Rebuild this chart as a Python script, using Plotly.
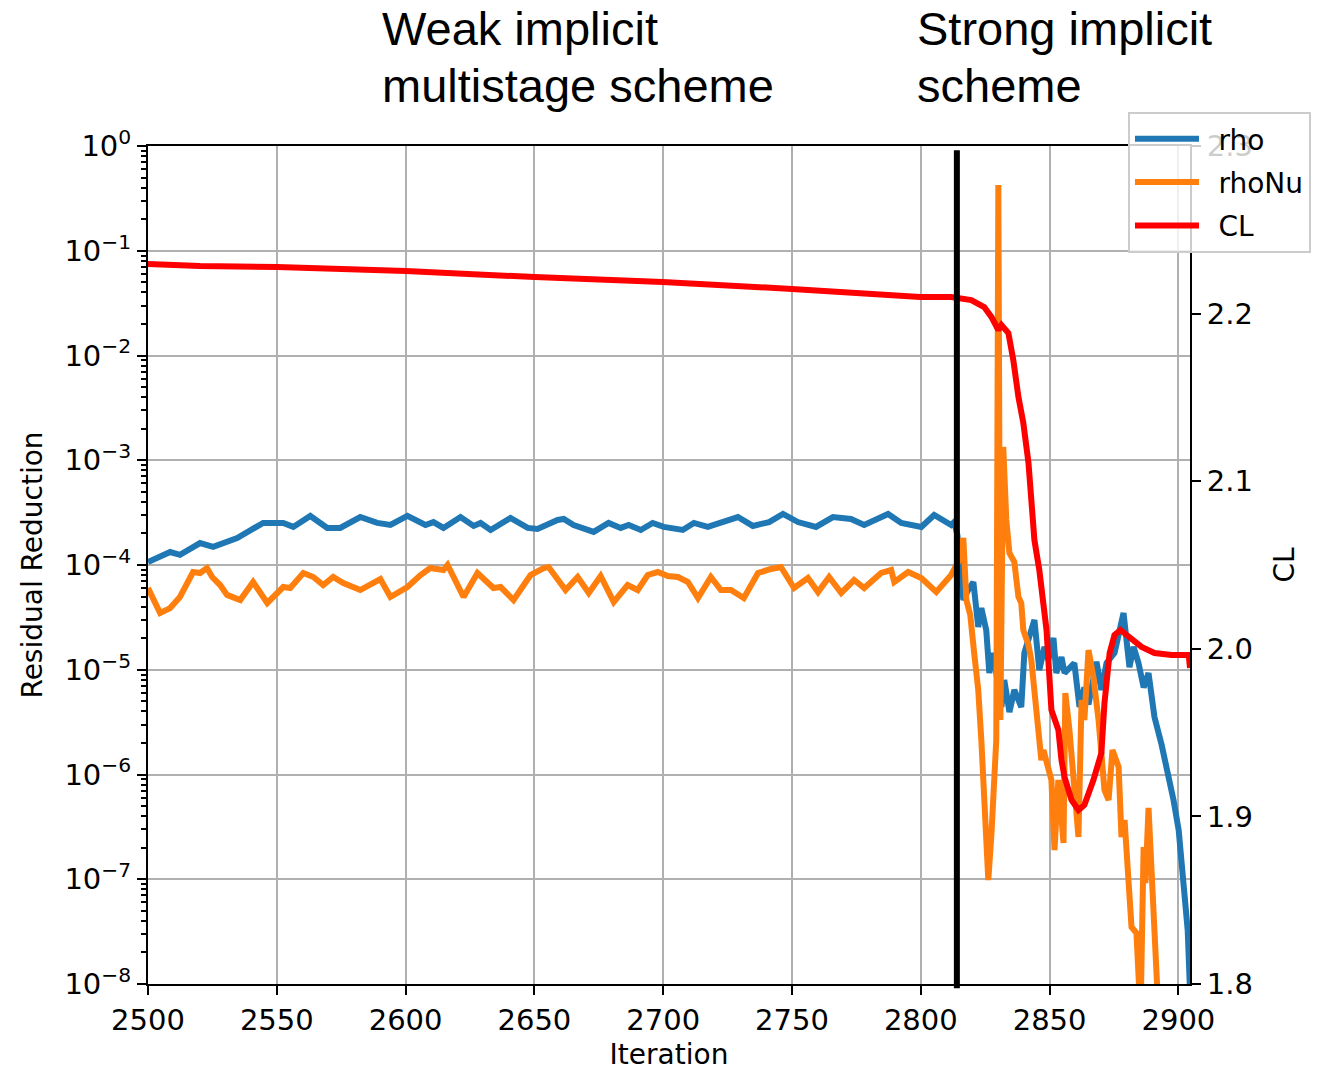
import plotly.graph_objects as go

# ---------------------------------------------------------------
# Convergence history: residual reduction (left, log) and CL (right)
# ---------------------------------------------------------------

# density residual "rho"
rho_iter = [2500.0, 2508.6, 2512.4, 2520.2, 2525.3, 2534.6, 2544.7, 2552.5, 2556.4, 2563.0,
            2569.6, 2574.6, 2582.4, 2589.0, 2594.1, 2600.7, 2607.7, 2610.8, 2614.7, 2621.3,
            2626.4, 2629.1, 2633.0, 2640.7, 2647.4, 2651.2, 2659.0, 2661.4, 2665.2, 2673.0,
            2678.8, 2683.5, 2686.6, 2691.3, 2695.9, 2700.2, 2707.6, 2711.9, 2717.3, 2723.2,
            2729.0, 2734.8, 2741.1, 2746.5, 2752.3, 2759.3, 2765.9, 2772.9, 2778.0, 2787.3,
            2792.4, 2800.2, 2805.2, 2811.8, 2813.0,
            2814.2, 2816.5, 2818.4, 2820.4, 2822.3, 2823.5, 2825.4, 2826.6, 2828.1, 2831.3,
            2832.4, 2834.4, 2836.3, 2839.0, 2840.2, 2844.1, 2846.0, 2848.0, 2849.5, 2851.5,
            2852.6, 2854.6, 2855.8, 2857.7, 2859.6, 2861.6, 2863.5, 2865.1, 2868.2, 2870.1,
            2872.1, 2875.2, 2878.7, 2881.0, 2882.6, 2884.5, 2886.5, 2888.4, 2890.7, 2893.5,
            2895.8, 2898.1, 2900.1, 2902.0, 2903.6, 2904.4]
rho_res = [1.07e-4, 1.33e-4, 1.25e-4, 1.62e-4, 1.49e-4, 1.81e-4, 2.52e-4, 2.52e-4, 2.31e-4, 2.94e-4,
           2.26e-4, 2.26e-4, 2.87e-4, 2.52e-4, 2.41e-4, 2.94e-4, 2.41e-4, 2.57e-4, 2.26e-4, 2.87e-4,
           2.36e-4, 2.52e-4, 2.16e-4, 2.81e-4, 2.26e-4, 2.21e-4, 2.69e-4, 2.75e-4, 2.41e-4, 2.07e-4,
           2.52e-4, 2.26e-4, 2.41e-4, 2.16e-4, 2.52e-4, 2.31e-4, 2.16e-4, 2.52e-4, 2.31e-4, 2.57e-4,
           2.87e-4, 2.36e-4, 2.57e-4, 3.07e-4, 2.57e-4, 2.31e-4, 2.87e-4, 2.75e-4, 2.41e-4, 3.07e-4,
           2.52e-4, 2.31e-4, 3.00e-4, 2.41e-4, 2.57e-4,
           1.93e-4, 4.63e-5, 5.77e-5, 6.88e-5, 2.56e-5, 3.88e-5, 2.39e-5, 9.3e-6, 1.45e-5, 4.41e-6,
           7.97e-6, 3.95e-6, 6.41e-6, 4.41e-6, 1.45e-5, 2.99e-5, 9.95e-6, 1.65e-5, 1.24e-5, 2.01e-5,
           9.3e-6, 1.32e-5, 9.3e-6, 1.06e-5, 1.16e-5, 4.41e-6, 6.77e-6, 4.66e-6, 1.19e-5, 6.41e-6,
           1.16e-5, 1.45e-5, 3.48e-5, 1.06e-5, 1.65e-5, 1.16e-5, 6.77e-6, 9.3e-6, 3.54e-6, 1.91e-6,
           1.10e-6, 5.71e-7, 2.95e-7, 9.8e-8, 3.28e-8, 1.0e-8]

# turbulence residual "rhoNu"
rhonu_iter = [2500.0, 2504.7, 2508.6, 2512.4, 2517.5, 2520.2, 2522.9, 2524.9, 2528.0, 2530.7,
              2535.8, 2540.8, 2546.3, 2552.5, 2555.2, 2560.3, 2564.2, 2568.0, 2571.9, 2575.8,
              2582.4, 2586.3, 2590.2, 2594.1, 2600.7, 2605.8, 2609.6, 2614.7, 2616.3, 2622.5,
              2627.9, 2634.1, 2636.9, 2641.9, 2648.5, 2653.6, 2655.5, 2662.1, 2666.8, 2671.1,
              2675.7, 2680.8, 2686.2, 2690.1, 2694.0, 2697.9, 2701.8, 2705.7, 2709.6, 2713.5,
              2718.5, 2722.4, 2726.3, 2731.3, 2736.8, 2741.8, 2745.7, 2750.8, 2756.2, 2760.1,
              2764.4, 2769.1, 2774.1, 2778.0, 2784.6, 2788.5, 2789.7, 2795.1, 2800.2, 2806.0,
              2811.8,
              2814.9, 2816.5, 2817.7, 2819.2, 2820.8, 2822.3, 2823.5, 2824.6, 2826.2, 2827.4,
              2828.5, 2829.3, 2830.1, 2830.9, 2832.0, 2833.2, 2834.4, 2836.3, 2837.9, 2839.0,
              2839.8, 2841.8, 2842.9, 2844.9, 2846.8, 2847.6, 2849.1, 2850.7, 2851.9, 2853.4,
              2855.4, 2856.1, 2857.7, 2859.3, 2861.2, 2862.4, 2863.5, 2865.1, 2867.0, 2869.0,
              2870.1, 2871.3, 2872.9, 2874.4, 2876.8, 2877.9, 2879.1, 2881.8, 2883.7, 2885.3,
              2886.5, 2887.2, 2888.4, 2890.4, 2892.3]
rhonu_res = [6.03e-5, 3.48e-5, 3.88e-5, 4.95e-5, 8.57e-5, 8.39e-5, 9.36e-5, 7.68e-5, 6.44e-5, 5.18e-5,
             4.63e-5, 6.88e-5, 4.34e-5, 6.16e-5, 6.03e-5, 8.39e-5, 7.68e-5, 6.44e-5, 7.68e-5, 6.73e-5,
             5.77e-5, 6.44e-5, 7.34e-5, 4.95e-5, 6.16e-5, 8.03e-5, 9.36e-5, 8.96e-5, 1.0e-4, 4.95e-5,
             8.39e-5, 6.03e-5, 6.16e-5, 4.63e-5, 8.03e-5, 9.36e-5, 9.57e-5, 5.77e-5, 7.68e-5, 5.41e-5,
             7.85e-5, 4.44e-5, 6.44e-5, 5.77e-5, 8.03e-5, 8.57e-5, 7.85e-5, 7.68e-5, 6.88e-5, 4.84e-5,
             7.68e-5, 5.77e-5, 5.77e-5, 4.84e-5, 8.39e-5, 9.16e-5, 9.57e-5, 6.03e-5, 7.51e-5, 5.52e-5,
             7.68e-5, 5.41e-5, 7.19e-5, 6.03e-5, 8.39e-5, 8.96e-5, 6.88e-5, 8.57e-5, 7.51e-5, 5.52e-5,
             8.03e-5,
             1.12e-4, 1.81e-4, 4.63e-5, 3.33e-5, 1.38e-5, 6.41e-6, 2.13e-6, 5.71e-7, 9.84e-8, 2.64e-7,
             7.11e-7, 2.13e-6, 0.425, 3.31e-6, 1.34e-3, 2.69e-4, 1.30e-4, 1.07e-4, 4.95e-5, 4.34e-5,
             2.39e-5, 1.72e-5, 1.24e-5, 4.41e-6, 1.37e-6, 1.71e-6, 1.23e-6, 8.86e-7, 1.90e-7, 8.86e-7,
             2.22e-7, 6.0e-6, 2.66e-6, 8.86e-7, 2.53e-7, 5.14e-6, 3.31e-6, 1.54e-5, 8.53e-6, 3.31e-6,
             1.37e-6, 7.11e-7, 5.71e-7, 1.71e-6, 1.18e-6, 2.53e-7, 3.68e-7, 3.50e-8, 3.07e-8, 5.0e-9,
             2.03e-7, 9.2e-8, 4.79e-7, 5.08e-8, 5.0e-9]

# lift coefficient history
cl_iter = [2500.0, 2520.2, 2550.2, 2600.0, 2650.1, 2699.8, 2750.0, 2774.9, 2799.8, 2811.8,
           2819.6, 2824.6, 2827.4, 2830.1, 2831.3, 2834.0, 2835.9, 2837.9, 2839.8, 2841.8,
           2844.1, 2846.0, 2848.8, 2850.7, 2853.4, 2854.6, 2855.8, 2858.5, 2861.2, 2863.5,
           2867.0, 2870.1, 2871.3, 2873.3, 2875.2, 2877.5, 2881.0, 2885.7, 2890.7, 2897.4,
           2904.0, 2904.5]
cl_val = [2.2296, 2.2284, 2.2278, 2.2254, 2.2218, 2.2189, 2.2147, 2.2123, 2.2099, 2.2099,
          2.2081, 2.2039, 2.1980, 2.1902, 2.1932, 2.1884, 2.1723, 2.1502, 2.1347, 2.1109,
          2.0649, 2.0470, 2.0112, 1.9635, 1.9516, 1.9337, 1.9235, 1.9098, 1.9038, 1.9068,
          1.9217, 1.9378, 1.9677, 1.9975, 2.0082, 2.0112, 2.0064, 2.0011, 1.9975, 1.9963,
          1.9963, 1.9885]

# iteration at which the solver switches from the weak to the strong implicit scheme
switch_iter = 2814

x_ticks = [2500, 2550, 2600, 2650, 2700, 2750, 2800, 2850, 2900]
res_tick_exp = [-8, -7, -6, -5, -4, -3, -2, -1, 0]
res_tick_text = ["10<sup>\u22128</sup>", "10<sup>\u22127</sup>", "10<sup>\u22126</sup>",
                 "10<sup>\u22125</sup>", "10<sup>\u22124</sup>", "10<sup>\u22123</sup>",
                 "10<sup>\u22122</sup>", "10<sup>\u22121</sup>", "10<sup>0</sup>"]
cl_ticks = [1.8, 1.9, 2.0, 2.1, 2.2, 2.3]
series_names = ["rho", "rhoNu", "CL"]

FONT = "DejaVu Sans"
GRID = "#b0b0b0"
LW = 6

res_tick_vals = [10.0 ** e for e in res_tick_exp]
res_minor_vals = [m * 10.0 ** e for e in res_tick_exp[:-1] for m in range(2, 10)]

# legend labels get a small non-breaking gap after the line sample
gap = "\u00a0\u2009"

fig = go.Figure()
fig.add_trace(go.Scatter(x=rho_iter, y=rho_res, mode="lines", name=gap + series_names[0],
                         line=dict(color="#1f77b4", width=LW), legendgroup="a"))
fig.add_trace(go.Scatter(x=rhonu_iter, y=rhonu_res, mode="lines", name=gap + series_names[1],
                         line=dict(color="#ff7f0e", width=LW), legendgroup="b"))
fig.add_trace(go.Scatter(x=cl_iter, y=cl_val, mode="lines", name=gap + series_names[2], yaxis="y2",
                         line=dict(color="#ff0000", width=LW), legendgroup="c"))

# scheme switch marker
fig.add_shape(type="line", xref="x", yref="y domain", x0=switch_iter, x1=switch_iter,
              y0=-0.005, y1=0.995, line=dict(color="black", width=6), layer="above")

tick_font = dict(family=FONT, size=29, color="black")
title_font = dict(family=FONT, size=28, color="black")

fig.update_layout(
    width=1327, height=1071,
    margin=dict(l=148, r=137, t=146, b=87),
    paper_bgcolor="white", plot_bgcolor="white",
    font=dict(family=FONT, size=28, color="black"),
    showlegend=True,
    legend=dict(x=1.1161, xanchor="right", y=1.0406, yanchor="top",
                bgcolor="rgba(255,255,255,0.8)", bordercolor="#cccccc", borderwidth=2,
                font=dict(family=FONT, size=28, color="black"),
                traceorder="grouped", tracegroupgap=4, itemwidth=64),
    xaxis=dict(range=[2500, 2904.5], tickvals=x_ticks, ticks="outside", ticklen=9,
               tickwidth=2, tickcolor="black", showline=True, linecolor="black", linewidth=2,
               mirror=True, showgrid=True, gridcolor=GRID, gridwidth=2, zeroline=False,
               tickfont=tick_font, automargin=False,
               title=dict(text="Iteration", standoff=11, font=title_font)),
    yaxis=dict(type="log", range=[-8, 0], tickvals=res_tick_vals, ticktext=res_tick_text,
               ticks="outside", ticklen=9, tickwidth=2, tickcolor="black",
               minor=dict(tickvals=res_minor_vals, ticks="outside", ticklen=5, tickwidth=1.5,
                          tickcolor="black", showgrid=False),
               showline=True, linecolor="black", linewidth=2, showgrid=True, gridcolor=GRID,
               gridwidth=2, zeroline=False, tickfont=tick_font, automargin=False,
               title=dict(text="Residual Reduction", standoff=14, font=title_font)),
    yaxis2=dict(overlaying="y", side="right", range=[1.8, 2.3], tickvals=cl_ticks,
                tickformat=".1f", ticks="outside", ticklen=9, tickwidth=2, tickcolor="black",
                showline=True, linecolor="black", linewidth=2, showgrid=False, zeroline=False,
                tickfont=tick_font, automargin=False,
                title=dict(text="CL", standoff=22, font=title_font)),
)

# scheme headings above the plot area
heading_font = dict(family="Liberation Sans, Arial", size=47, color="black")
headings = [("Weak implicit", 380, 28), ("multistage scheme", 380, 85),
            ("Strong implicit", 915, 28), ("scheme", 915, 85)]
for text, px, py in headings:
    fig.add_annotation(text=text, xref="paper", yref="paper",
                       x=(px - 148) / 1042, y=(984 - py) / 838,
                       xanchor="left", yanchor="middle", showarrow=False,
                       font=heading_font)

fig.write_html("out.html")
